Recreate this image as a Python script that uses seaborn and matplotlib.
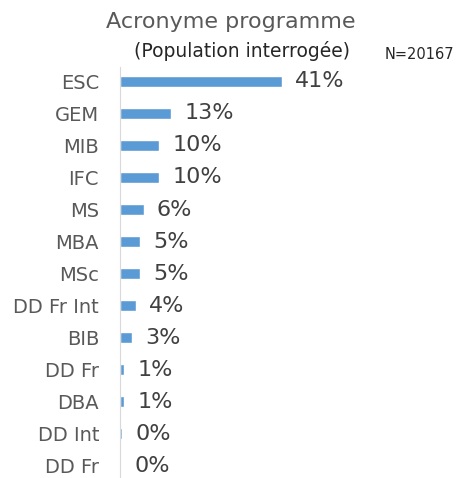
import seaborn as sns
import pandas as pd
import matplotlib.pyplot as plt

programmes = ["ESC", "GEM", "MIB", "IFC", "MS", "MBA", "MSc", "DD Fr Int",
              "BIB", "DD Fr", "DBA", "DD Int", "DD Fr"]
percents = [41, 13, 10, 10, 6, 5, 5, 4, 3, 1, 1, 0.45, 0.4]

# row number as key, since "DD Fr" appears twice
df = pd.DataFrame({"row": range(len(programmes)), "pct": percents})

sns.set_style("white")
plt.rcParams["font.family"] = ["DejaVu Sans"]

fig = plt.figure(figsize=(4.61, 4.78), dpi=100)
ax = fig.add_axes([0.26, 0.0, 0.514, 0.86])

sns.barplot(data=df, x="pct", y="row", color="#5B9BD5", width=0.33,
            saturation=1, orient="h", ax=ax)

ax.set_yticks(range(len(programmes)), programmes)
ax.set_xlim(0, 60)
ax.set_ylim(12.38, -0.45)
ax.set_xlabel("")
ax.set_ylabel("")
ax.set_xticks([])
for s in ["top", "right", "bottom"]:
    ax.spines[s].set_visible(False)
ax.spines["left"].set_color("#D9D9D9")
ax.tick_params(axis="y", length=0, pad=15, labelsize=14, labelcolor="#595959")

for i, v in enumerate(percents):
    ax.text(v + 3.4, i, "{:.0f}%".format(v), va="center", ha="left",
            fontsize=16, color="#404040")

fig.text(0.5, 0.955, "Acronyme programme", ha="center", va="center",
         fontsize=16, color="#595959")
fig.text(0.525, 0.893, "(Population interrogée)", ha="center", va="center",
         fontsize=13.5, color="#262626")
fig.text(0.835, 0.886, "N=20167", ha="left", va="center",
         fontsize=10.5, color="#262626")

fig.savefig("out.png", dpi=100)
